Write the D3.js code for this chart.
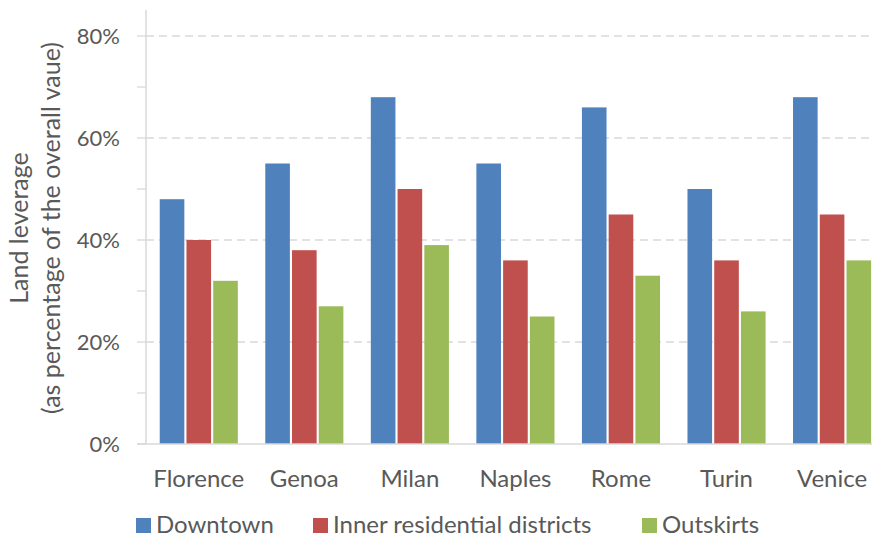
<!DOCTYPE html>
<html>
<head>
<meta charset="utf-8">
<script src="https://cdn.jsdelivr.net/npm/d3@7"></script>
<style>
  html, body { margin: 0; padding: 0; background: #fff; }
  svg { display: block; font-family: Lato, "Open Sans", sans-serif; }
</style>
</head>
<body>
<svg id="chart" width="872" height="539"></svg>
<script>
// Land leverage by city and zone (share of overall value, %)
const cities = ["Florence", "Genoa", "Milan", "Naples", "Rome", "Turin", "Venice"];
const seriesNames = ["Downtown", "Inner residential districts", "Outskirts"];
const downtown = [48, 55, 68, 55, 66, 50, 68];
const innerResidential = [40, 38, 50, 36, 45, 36, 45];
const outskirts = [32, 27, 39, 25, 33, 26, 36];
const yTicks = [0, 20, 40, 60, 80];
const yMinorTicks = [0, 10, 20, 30, 40, 50, 60, 70, 80];
const colors = ["#4F81BD", "#C0504D", "#9BBB59"];

const values = [downtown, innerResidential, outskirts];
const rows = cities.map((c, i) => ({
  city: c,
  vals: seriesNames.map((s, j) => ({ series: s, idx: j, value: values[j][i] }))
}));

const svg = d3.select("#chart");
const plotLeft = 146, plotTop = 36, plotBottom = 444;
const bandW = 105.55;
const plotRight = plotLeft + bandW * cities.length;

const x = d3.scaleBand().domain(cities).range([plotLeft, plotRight]).paddingInner(0.26).paddingOuter(0.13);
const xs = d3.scaleBand().domain(seriesNames).range([0, x.bandwidth()]).paddingInner(0.08);
const y = d3.scaleLinear().domain([0, 80]).range([plotBottom, plotTop]);

const gridColor = "#d9d9d9";
const textColor = "#595959";

// dashed horizontal gridlines
svg.append("g").selectAll("line").data(yTicks.filter(d => d > 0)).join("line")
  .attr("x1", plotLeft).attr("x2", 872)
  .attr("y1", d => y(d)).attr("y2", d => y(d))
  .attr("stroke", gridColor).attr("stroke-width", 1.3)
  .attr("stroke-dasharray", "8,5");

// tick marks on the value axis
svg.append("g").selectAll("line").data(yMinorTicks).join("line")
  .attr("x1", plotLeft - 9).attr("x2", plotLeft)
  .attr("y1", d => y(d)).attr("y2", d => y(d))
  .attr("stroke", gridColor).attr("stroke-width", 1.3);

// value axis line
svg.append("line").attr("x1", plotLeft).attr("x2", plotLeft).attr("y1", 10).attr("y2", plotBottom)
  .attr("stroke", gridColor).attr("stroke-width", 1.5);

// bars
svg.append("g").selectAll("g").data(rows).join("g")
  .attr("transform", d => `translate(${x(d.city)},0)`)
  .selectAll("rect").data(d => d.vals).join("rect")
  .attr("x", d => xs(d.series))
  .attr("width", xs.bandwidth())
  .attr("y", d => y(d.value))
  .attr("height", d => y(0) - y(d.value))
  .attr("fill", d => colors[d.idx]);

// category axis line
svg.append("line").attr("x1", plotLeft - 9).attr("x2", 872).attr("y1", plotBottom).attr("y2", plotBottom)
  .attr("stroke", gridColor).attr("stroke-width", 1.5);

// value tick labels
svg.append("g").selectAll("text").data(yTicks).join("text")
  .attr("x", 120).attr("y", d => y(d)).attr("dy", "0.36em")
  .attr("text-anchor", "end").attr("font-size", 22).attr("fill", textColor)
  .text(d => d + "%");

// category labels
svg.append("g").selectAll("text").data(cities).join("text")
  .attr("x", d => x(d) + x.bandwidth() / 2).attr("y", 487)
  .attr("text-anchor", "middle").attr("font-size", 24).attr("fill", textColor)
  .text(d => d);

// value axis title
const title = svg.append("text")
  .attr("transform", "translate(0,228) rotate(-90)")
  .attr("text-anchor", "middle").attr("font-size", 25).attr("fill", textColor);
title.append("tspan").attr("x", 0).attr("y", 28).text("Land leverage");
title.append("tspan").attr("x", 0).attr("y", 60).text("(as percentage of the overall vaue)");

// legend
const legendX = [136, 313, 642];
const lg = svg.append("g").selectAll("g").data(seriesNames).join("g")
  .attr("transform", (d, i) => `translate(${legendX[i]},0)`);
lg.append("rect").attr("x", 0).attr("y", 518).attr("width", 15).attr("height", 15)
  .attr("fill", (d, i) => colors[i]);
lg.append("text").attr("x", 20).attr("y", 533)
  .attr("font-size", 24).attr("fill", textColor).text(d => d);
</script>
</body>
</html>
